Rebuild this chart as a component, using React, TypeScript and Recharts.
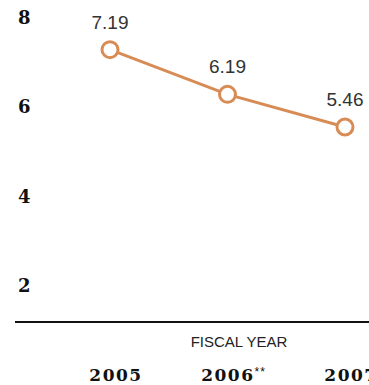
import { LineChart, Line, XAxis, YAxis, LabelList } from "recharts";

const years = ["2005", "2006**", "2007"];
const values = [7.19, 6.19, 5.46];
const yTicks = [2, 4, 6, 8];
const axisTitle = "FISCAL YEAR";

const data = years.map((year, i) => ({ year, value: values[i] }));

const ORANGE = "#d88c55";
const SERIF = "'DejaVu Serif', serif";
const SANS = "'Liberation Sans', Arial, sans-serif";

function YearTick({ x, y, payload }: any) {
  const label = String(payload.value);
  const main = label.replace(/\*+$/, "");
  const marks = label.slice(main.length);
  return (
    <text
      x={x + 6}
      y={y}
      dy={57}
      textAnchor="middle"
      fontFamily={SERIF}
      fontWeight="bold"
      fontSize={17}
      letterSpacing={1.5}
      fill="#111"
    >
      <tspan>{main}</tspan>
      {marks && (
        <tspan fontFamily={SANS} fontWeight="normal" fontSize={12} letterSpacing={1} dy={-5}>
          {marks}
        </tspan>
      )}
    </text>
  );
}

function AxisTitle({ viewBox }: any) {
  return (
    <text
      x={viewBox.x + viewBox.width / 2 + 47}
      y={viewBox.y + 25}
      textAnchor="middle"
      fontFamily={SANS}
      fontSize={15}
      fill="#222"
    >
      {axisTitle}
    </text>
  );
}

export default function App() {
  return (
    <div style={{ position: "absolute", left: 0, top: 0, background: "#fff" }}>
      <LineChart
        width={369}
        height={385}
        data={data}
        margin={{ top: 0, right: 0, bottom: 0, left: 15 }}
      >
        <XAxis
          dataKey="year"
          height={63}
          padding={{ left: 95, right: 24 }}
          axisLine={{ stroke: "#111", strokeWidth: 2 }}
          tickLine={false}
          tickSize={0}
          tick={<YearTick />}
          label={<AxisTitle />}
          interval={0}
        />
        <YAxis
          mirror
          domain={[1.1, 8.3]}
          ticks={yTicks}
          axisLine={false}
          tickLine={false}
          tickSize={0}
          tickMargin={3}
          tick={{
            fontFamily: SERIF,
            fontWeight: "bold",
            fontSize: 18,
            fill: "#111",
            textAnchor: "start",
            dy: 4,
          }}
        />
        <Line
          type="linear"
          dataKey="value"
          stroke={ORANGE}
          strokeWidth={3}
          dot={{ r: 8, stroke: ORANGE, strokeWidth: 3, fill: "#fff" }}
          activeDot={false}
          isAnimationActive={false}
        >
          <LabelList
            dataKey="value"
            position="top"
            offset={21}
            fontFamily={SANS}
            fontSize={19}
            fill="#333"
          />
        </Line>
      </LineChart>
    </div>
  );
}
